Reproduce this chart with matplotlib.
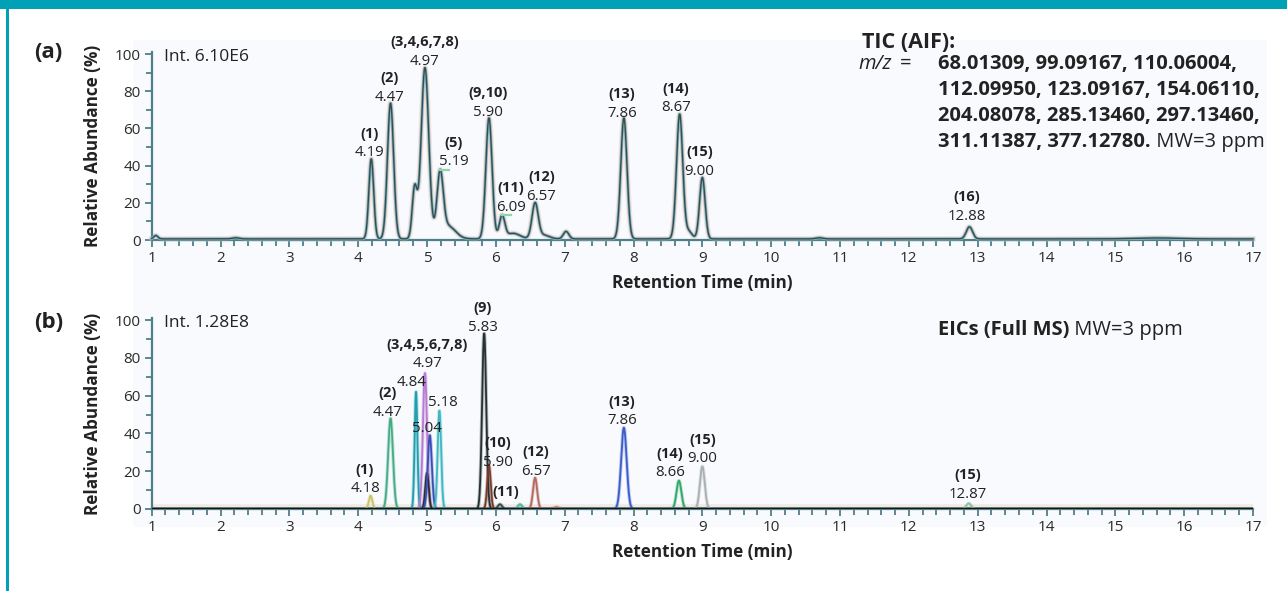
import numpy as np
import matplotlib.pyplot as plt
from matplotlib.patches import Rectangle
from matplotlib.ticker import MultipleLocator

plt.rcParams['font.family'] = ['Open Sans', 'DejaVu Sans']

# (a) TIC (AIF) peak table: retention time (min), relative abundance (%), peak sigma (min)
tic_rt = [1.06, 2.22, 4.19, 4.47, 4.82, 4.97, 5.19, 5.30, 5.90, 6.09, 6.25, 6.57, 6.70, 7.02, 7.86, 8.67, 8.80, 9.00, 10.70, 12.88, 15.60]
tic_height = [1.8, 0.6, 43, 73, 27, 92, 33, 7, 65, 12, 3, 19, 2, 4, 65, 67, 4, 33, 0.6, 6.5, 0.5]
tic_sigma = [0.03, 0.05, 0.035, 0.045, 0.035, 0.055, 0.045, 0.11, 0.045, 0.04, 0.1, 0.045, 0.08, 0.04, 0.045, 0.045, 0.05, 0.04, 0.05, 0.045, 0.3]
tic_baseline = 0.6

tic_label_ids = ['(1)', '(2)', '(3,4,6,7,8)', '(5)', '(9,10)', '(11)', '(12)', '(13)', '(14)', '(15)', '(16)']
tic_label_rt = [4.19, 4.47, 4.97, 5.19, 5.90, 6.09, 6.57, 7.86, 8.67, 9.00, 12.88]

# (b) EICs (Full MS): one extracted trace per peak
eic_rt = [4.18, 4.47, 4.84, 4.97, 5.00, 5.04, 5.18, 5.83, 5.90, 6.06, 6.35, 6.57, 6.88, 7.86, 8.66, 9.00, 12.87]
eic_height = [7, 48, 62, 72, 19, 39, 52, 93, 23, 2.5, 2.5, 16.5, 1, 43, 15, 22.5, 3]
eic_sigma = [0.025, 0.035, 0.02, 0.03, 0.025, 0.03, 0.025, 0.03, 0.025, 0.03, 0.03, 0.03, 0.04, 0.04, 0.035, 0.035, 0.035]
eic_colors = ['#c9c46a', '#45ad86', '#1f9fb0', '#b67ad2', '#2b2b2b', '#3a4fb5', '#3fb8c2', '#263232',
              '#7a3a2a', '#3a4a4a', '#50b890', '#b56a60', '#b08070', '#3a5ccc', '#2fa868', '#a8b0b0', '#8fbfa0']

eic_label_ids = ['(1)', '(2)', '', '(3,4,5,6,7,8)', '', '', '(9)', '(10)', '(11)', '(12)', '(13)', '(14)', '(15)', '(15)']
eic_label_rt = [4.18, 4.47, 4.84, 4.97, 5.04, 5.18, 5.83, 5.90, 6.06, 6.57, 7.86, 8.66, 9.00, 12.87]
eic_rt_hidden = [6.06]

# label offsets in points (dx, dy of the number baseline above the apex)
tic_offsets = [(-1.5, 2), (-1, 1.5), (0, 2), (10, 3), (-0.5, 1.5), (6.5, 3), (4.5, 2),
               (-1.5, 1), (-2.5, 2), (-2, 2), (-2, 5)]
eic_offsets = [(-4, 2.5), (-2.5, 1.5), (-3.5, 4.5), (1.5, 4), (-2, 2.5), (2.5, 3.5), (-1, 1.5),
               (6.5, 0), (4, 6), (0.5, 2), (-1.5, 2.5), (-6.5, 3), (0, 3), (-1, 4)]

W, H = 1287, 591
x = np.linspace(1, 17, 4001)


def gauss(r, h, s):
    return h * np.exp(-0.5 * ((x - r) / s) ** 2)


def fx(px):
    return px / W


def fy(py):
    return 1 - py / H


def style_axis(ax):
    ax.set_xlim(1, 17)
    ax.set_ylim(0, 101)
    ax.patch.set_visible(False)
    for s in ['top', 'right']:
        ax.spines[s].set_visible(False)
    for s in ['left', 'bottom']:
        ax.spines[s].set_color('#4f7f89')
        ax.spines[s].set_linewidth(1.6)
    ax.xaxis.set_major_locator(MultipleLocator(1))
    ax.xaxis.set_minor_locator(MultipleLocator(0.2))
    ax.yaxis.set_major_locator(MultipleLocator(20))
    ax.yaxis.set_minor_locator(MultipleLocator(10))
    ax.tick_params(which='both', direction='out', color='#4f7f89', width=1.3,
                   labelsize=11, labelcolor='#2a2a2a', pad=3)
    ax.tick_params(which='major', length=5)
    ax.tick_params(which='minor', length=4)
    ax.set_xlabel('Retention Time (min)', fontsize=12.3, fontweight='bold', color='#222', labelpad=6)
    ax.set_ylabel('Relative Abundance (%)', fontsize=12.3, fontweight='bold', color='#222', labelpad=9)


def label(ax, rt, h, ident, off, show_rt=True):
    dx, dy = off
    if show_rt:
        ax.annotate(f'{rt:.2f}', (rt, h), xytext=(dx, dy), textcoords='offset points',
                    ha='center', va='baseline', fontsize=10.8, color='#222')
        dy += 13.5
    if ident:
        ax.annotate(ident, (rt, h), xytext=(dx, dy), textcoords='offset points',
                    ha='center', va='baseline', fontsize=10.5, fontweight='bold', color='#222')


fig = plt.figure(figsize=(W / 100, H / 100), dpi=100)
fig.patch.set_facecolor('white')

# frame and plot-area tint
fig.patches.append(Rectangle((fx(133), fy(527)), fx(1267 - 133), (527 - 40) / H,
                             transform=fig.transFigure, facecolor='#f8fafd', edgecolor='none', zorder=-2))
fig.patches.append(Rectangle((0, fy(9)), 1, 9 / H, transform=fig.transFigure,
                             facecolor='#00a0b6', edgecolor='none', zorder=-2))
fig.patches.append(Rectangle((fx(6), 0), 3 / W, 1, transform=fig.transFigure,
                             facecolor='#00a0b6', edgecolor='none', zorder=-2))

ax_a = fig.add_axes([fx(151.7), fy(240), fx(1253 - 151.7), 101 * 1.86 / H])
ax_b = fig.add_axes([fx(151.7), fy(509), fx(1253 - 151.7), 101 * 1.89 / H])

# (a) total ion chromatogram
tic = np.full_like(x, tic_baseline)
for r, h, s in zip(tic_rt, tic_height, tic_sigma):
    tic += gauss(r, h, s)
ax_a.plot(x, tic, color='#f4c4b2', lw=4, alpha=0.45, zorder=2, clip_on=False)
ax_a.plot(x, tic, color='#7fb9c4', lw=2.2, zorder=3, clip_on=False)
ax_a.plot(x, tic, color='#3b4a4f', lw=1.0, zorder=4, clip_on=False)
style_axis(ax_a)

for ident, rt, off in zip(tic_label_ids, tic_label_rt, tic_offsets):
    h = np.interp(rt, x, tic)
    label(ax_a, rt, h, ident, off)
    if ident in ('(5)', '(11)'):
        ax_a.plot([rt, rt + 0.13], [h, h], color='#8fd6a6', lw=1.6, zorder=5)

ax_a.text(0.011, 0.975, 'Int. 6.10E6', transform=ax_a.transAxes, fontsize=12.5, color='#222', va='center')

# (b) extracted ion chromatograms, each with a soft halo of its own colour
ax_b.axhline(0.8, color='#f4c4b2', lw=4, alpha=0.35, zorder=1)
for r, h, s, c in zip(eic_rt, eic_height, eic_sigma, eic_colors):
    y = gauss(r, h, s)
    ax_b.plot(x, y, color=c, lw=2.6, alpha=0.3, zorder=2)
    ax_b.plot(x, y, color=c, lw=1.3, zorder=3)
ax_b.axhline(0, color='#151515', lw=2.4, zorder=4)
style_axis(ax_b)

for ident, rt, off in zip(eic_label_ids, eic_label_rt, eic_offsets):
    h = eic_height[eic_rt.index(rt)]
    label(ax_b, rt, h, ident, off, show_rt=rt not in eic_rt_hidden)

ax_b.text(0.011, 0.975, 'Int. 1.28E8', transform=ax_b.transAxes, fontsize=12.5, color='#222', va='center')

# panel letters
fig.text(fx(48.5), fy(53), '(a)', fontsize=16, fontweight='bold', ha='center', va='center', color='#222')
fig.text(fx(49), fy(322), '(b)', fontsize=16, fontweight='bold', ha='center', va='center', color='#222')

# acquisition notes
fig.text(fx(862), fy(42), 'TIC (AIF):', fontsize=15.5, fontweight='bold', va='center', color='#222')
fig.text(fx(858), fy(64), 'm/z', fontsize=14.5, style='italic', va='center', color='#222')
fig.text(fx(900), fy(64), '=', fontsize=14.5, va='center', color='#222')
mz_lines = ['68.01309, 99.09167, 110.06004,',
            '112.09950, 123.09167, 154.06110,',
            '204.08078, 285.13460, 297.13460,',
            '311.11387, 377.12780.']
mz_y = [64, 90, 116, 142]
last = None
for line, py in zip(mz_lines, mz_y):
    last = fig.text(fx(938), fy(py), line, fontsize=14.5, fontweight='bold', va='center', color='#222')
fig.add_artist(plt.Annotation(' MW=3 ppm', xy=(1, 0), xycoords=last, va='bottom', ha='left',
                              fontsize=14.5, color='#222'))

eic = fig.text(fx(938), fy(330), 'EICs (Full MS)', fontsize=14.5, fontweight='bold', va='center', color='#222')
fig.add_artist(plt.Annotation(' MW=3 ppm', xy=(1, 0), xycoords=eic, va='bottom', ha='left',
                              fontsize=14.5, color='#222'))

fig.savefig('out.png', dpi=100)
